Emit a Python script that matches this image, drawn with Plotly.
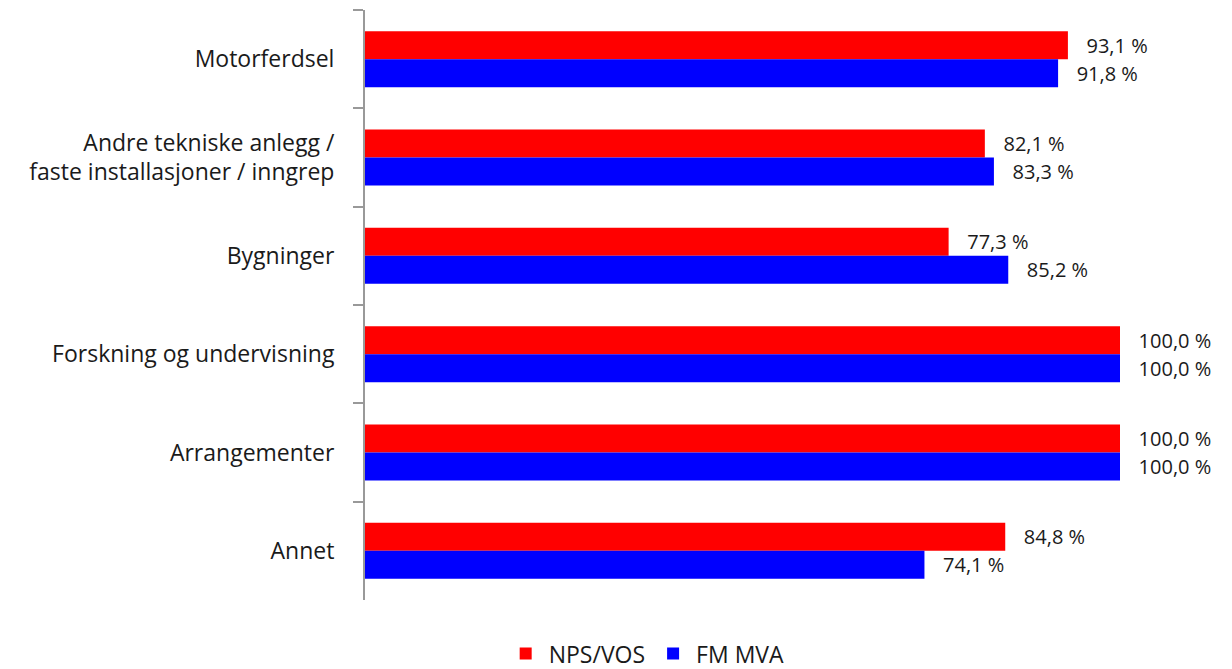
import plotly.graph_objects as go

categories = ["Motorferdsel",
              "Andre tekniske anlegg /<br>faste installasjoner / inngrep",
              "Bygninger",
              "Forskning og undervisning",
              "Arrangementer",
              "Annet"]
nps_vos = [93.1, 82.1, 77.3, 100.0, 100.0, 84.8]
fm_mva = [91.8, 83.3, 85.2, 100.0, 100.0, 74.1]


def fmt(values):
    # norsk desimalkomma
    return ["   " + f"{v:.1f}".replace(".", ",") + " %" for v in values]


fig = go.Figure()
fig.add_trace(go.Bar(
    y=categories, x=nps_vos, name="NPS/VOS", orientation="h",
    marker=dict(color="#ff0000", line=dict(width=0)),
    text=fmt(nps_vos), textposition="outside", cliponaxis=False,
    constraintext="none",
    textfont=dict(size=20, color="#1a1a1a")
))
fig.add_trace(go.Bar(
    y=categories, x=fm_mva, name="FM MVA", orientation="h",
    marker=dict(color="#0000ff", line=dict(width=0)),
    text=fmt(fm_mva), textposition="outside", cliponaxis=False,
    constraintext="none",
    textfont=dict(size=20, color="#1a1a1a")
))

# the page adds ~8px body margin, so margins are shifted to compensate
fig.update_layout(
    width=1232, height=669,
    barmode="group", bargap=0.43, bargroupgap=0,
    plot_bgcolor="white", paper_bgcolor="white",
    font=dict(family="Open Sans", size=23, color="#1a1a1a"),
    margin=dict(l=357, r=120, t=2, b=77),
    legend=dict(orientation="h", xref="container", yref="container",
                x=0.518, y=0.035, xanchor="center", yanchor="middle",
                font=dict(size=23), itemwidth=36),
    showlegend=True,
)
fig.update_xaxes(range=[0, 100], visible=False, showgrid=False)
fig.update_yaxes(autorange="reversed", showline=True, linecolor="#999999", linewidth=2,
                 ticks="outside", ticklen=10, tickcolor="#999999", tickwidth=2,
                 tickson="boundaries", showgrid=False, ticklabelstandoff=24)

fig.write_html("out.html")
